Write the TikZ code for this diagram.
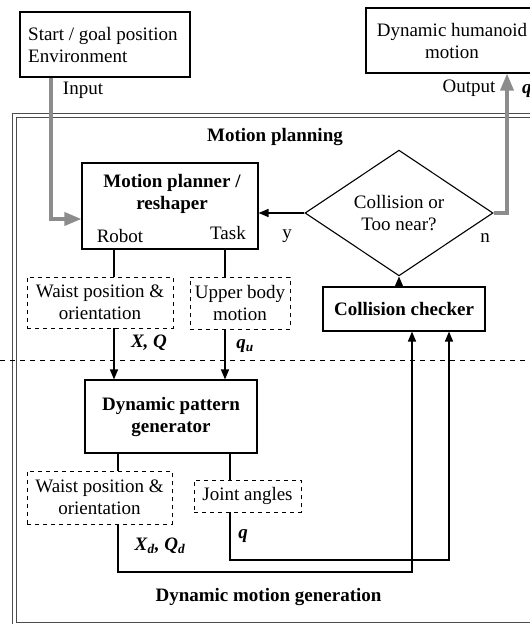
\documentclass[tikz,border=0pt]{standalone}
\usepackage{fontspec}
\setmainfont{Liberation Serif}
\usetikzlibrary{arrows.meta,shapes.geometric}

\newcommand{\bfitx}[1]{\textbf{\textit{#1}}}
\newcommand{\mainsize}{\fontsize{19}{22}\selectfont}

\tikzset{
  box/.style={draw, line width=1.1pt, inner sep=0pt, align=center},
  dbox/.style={draw, line width=0.9pt, dash pattern=on 4pt off 4pt, inner sep=0pt, align=center},
  lbl/.style={inner sep=0pt},
  heading/.style={inner sep=0pt, font=\mainsize\bfseries, align=center},
  conn/.style={line width=1.5pt},
  arr/.style={conn, -{Triangle[length=10pt,width=8pt]}},
  garr/.style={line width=3.5pt, draw=black!45, -{Triangle[length=17pt,width=13pt]}},
  frame/.style={line width=1pt, draw=black!70},
}

\begin{document}
\begin{tikzpicture}[x=1pt, y=-1pt, font=\mainsize]
\clip (0,0) rectangle (530,624);
\fill[white] (0,0) rectangle (530,624);

% double frame around both stages
\draw[frame] (12,113) rectangle (545,635);
\draw[frame] (16,117) rectangle (541,622);

% stage separator
\draw[line width=0.9pt, dash pattern=on 5pt off 5pt] (0,360) -- (530,360);

% input / output boxes
\node[box, minimum width=170pt, minimum height=65pt] (in) at (105,44.5) {};
\node[lbl, anchor=west, align=left] (intxt) at (28,45) {Start / goal position\\Environment};
\node[box, minimum width=172pt, minimum height=65pt] (out) at (452,40.5)
  {Dynamic humanoid\\motion};

% motion planning stage
\node[heading] (tplan) at (275,137) {Motion planning};
\node[box, minimum width=176pt, minimum height=86pt] (mp) at (170,206) {};
\node[heading] (mptxt) at (172,194) {Motion planner /\\reshaper};
\node[lbl] (robot) at (120,236) {Robot};
\node[lbl] (task) at (228,233) {Task};

\node[draw, line width=1.1pt, diamond, inner sep=0pt, minimum width=188pt, minimum height=87pt,
      align=center] (dec) at (399,213) {Collision or\\Too near?};
\node[lbl] (ylbl) at (287,236) {y};
\node[lbl] (nlbl) at (485,238) {n};

\node[box, minimum width=162pt, minimum height=44pt, font=\mainsize\bfseries] (cc)
  at (404,309) {Collision checker};

\node[dbox, minimum width=146pt, minimum height=51pt] (wp1) at (100,302.5)
  {Waist position \&\\orientation};
\node[dbox, minimum width=100pt, minimum height=52pt] (ub) at (240,303)
  {Upper body\\motion};

\node[lbl] (xq) at (149,343) {\bfitx{X, Q}};
\node[lbl] (qu) at (245,346) {\bfitx{q}\textsubscript{\bfitx{u}}};

% dynamic motion generation stage
\node[box, minimum width=172pt, minimum height=73pt, font=\mainsize\bfseries] (dpg)
  at (171,416.5) {Dynamic pattern\\generator};
\node[dbox, minimum width=145pt, minimum height=53pt] (wp2) at (99.5,497.5)
  {Waist position \&\\orientation};
\node[dbox, minimum width=107pt, minimum height=32pt] (ja) at (247.5,496) {Joint angles};

\node[lbl] (xqd) at (160,546) {\bfitx{X}\textsubscript{\bfitx{d}}\bfitx{, Q}\textsubscript{\bfitx{d}}};
\node[lbl] (qj) at (243,536) {\bfitx{q}};
\node[heading] (tgen) at (268.5,597) {Dynamic motion generation};

% labels of the input and output
\node[lbl] (tin) at (83,90) {Input};
\node[lbl] (tout) at (469,88) {Output};
\node[lbl, anchor=west] (qout) at (522,91) {\bfitx{q}};

% column positions of the connectors
\coordinate (cl) at (114,0);
\coordinate (cr) at (225,0);
\coordinate (dl) at (118,0);
\coordinate (dr) at (230,0);
\coordinate (ka) at (412,0);
\coordinate (kb) at (449,0);
\coordinate (gin) at (51,0);
\coordinate (gout) at (507,0);
\coordinate (yin) at (0,219);
\coordinate (ylow) at (0,572);
\coordinate (yhigh) at (0,560);

% planner outputs
\draw[conn] (mp.south -| cl) -- (wp1.north -| cl);
\draw[conn] (mp.south -| cr) -- (ub.north -| cr);
\draw[arr] (wp1.south -| cl) -- (dpg.north -| cl);
\draw[arr] (ub.south -| cr) -- (dpg.north -| cr);

% generator outputs
\draw[conn] (dpg.south -| dl) -- (wp2.north -| dl);
\draw[conn] (dpg.south -| dr) -- (ja.north -| dr);
\draw[arr] (wp2.south -| dl) -- (dl |- ylow) -- (ka |- ylow) -- (cc.south -| ka);
\draw[arr] (ja.south -| dr) -- (dr |- yhigh) -- (kb |- yhigh) -- (cc.south -| kb);

% collision loop
\draw[arr] (cc.north -| dec.south) -- (dec.south);
\draw[arr] (dec.west) -- (mp.east |- dec.west);

% input and output flows
\draw[garr] (in.south -| gin) -- (gin |- yin) -- (mp.west |- yin);
\draw[garr] (dec.east) -- (gout |- dec.east) -- (out.south -| gout);
\end{tikzpicture}
\end{document}
